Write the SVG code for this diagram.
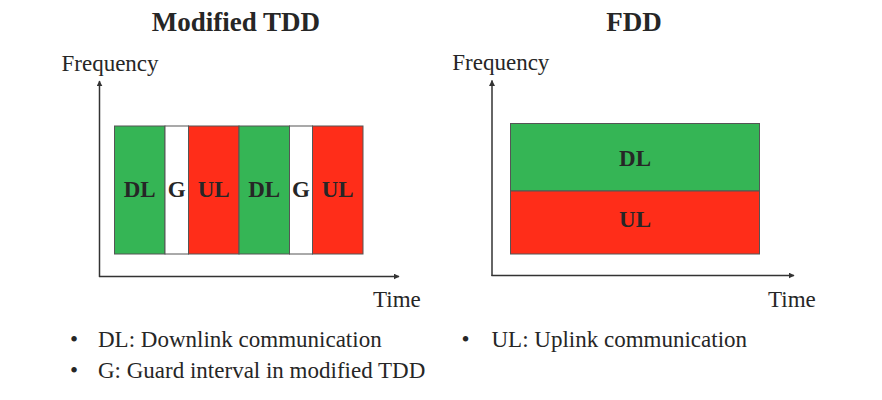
<svg xmlns="http://www.w3.org/2000/svg" width="882" height="400" viewBox="0 0 882 400">
<style>
text{font-family:"Liberation Serif","Times New Roman",serif;fill:#262626}
.t{font-size:27px;font-weight:bold;text-anchor:middle}
.ax{font-size:23px}
.lb{font-size:23px;font-weight:bold;text-anchor:middle}
.bl{font-size:23px}
.dl{fill:#35B555;stroke:#555;stroke-width:1}
.ul{fill:#FF2D19;stroke:#555;stroke-width:1}
.g{fill:#fff;stroke:#555;stroke-width:1}
.axis{stroke:#333;stroke-width:1.5;fill:none;marker-end:url(#ah)}
</style>
<defs>
<marker id="ah" viewBox="0 0 10 10" refX="9" refY="5" markerWidth="6" markerHeight="6" markerUnits="userSpaceOnUse" orient="auto">
<path d="M0,0 L10,5 L0,10 z" fill="#333"/>
</marker>
</defs>
<rect width="882" height="400" fill="#fff"/>
<text class="t" x="236" y="31">Modified TDD</text>
<text class="t" x="634" y="31">FDD</text>
<g id="connectors">
<line class="axis" x1="99.5" y1="277" x2="99.5" y2="81"/>
<line class="axis" x1="99" y1="276.5" x2="399" y2="276.5"/>
<line class="axis" x1="492" y1="276" x2="492" y2="80.5"/>
<line class="axis" x1="491.5" y1="275.5" x2="794" y2="275.5"/>
</g>
<g id="tdd-axes-labels">
<text class="ax" x="61.5" y="71">Frequency</text>
<text class="ax" x="373" y="307">Time</text>
</g>
<g id="tdd-dl1"><rect class="dl" x="114.5" y="126" width="50.5" height="128"/><text class="lb" x="139.7" y="197">DL</text></g>
<g id="tdd-g1"><rect class="g" x="165" y="126" width="23.5" height="128"/><text class="lb" x="176.7" y="197">G</text></g>
<g id="tdd-ul1"><rect class="ul" x="188.5" y="126" width="50.5" height="128"/><text class="lb" x="213.7" y="197">UL</text></g>
<g id="tdd-dl2"><rect class="dl" x="239" y="126" width="50.5" height="128"/><text class="lb" x="264.2" y="197">DL</text></g>
<g id="tdd-g2"><rect class="g" x="289.5" y="126" width="23" height="128"/><text class="lb" x="301" y="197">G</text></g>
<g id="tdd-ul2"><rect class="ul" x="312.5" y="126" width="50.5" height="128"/><text class="lb" x="337.7" y="197">UL</text></g>
<g id="fdd-axes-labels">
<text class="ax" x="452.3" y="69.5">Frequency</text>
<text class="ax" x="768" y="306.5">Time</text>
</g>
<g id="fdd-dl"><rect class="dl" x="510.5" y="123.5" width="249" height="67.5"/><text class="lb" x="635" y="166">DL</text></g>
<g id="fdd-ul"><rect class="ul" x="510.5" y="191" width="249" height="63"/><text class="lb" x="635" y="227">UL</text></g>
<g id="legend">
<text class="bl" x="70" y="346.5">•</text><text class="bl" x="98" y="346.5">DL: Downlink communication</text>
<text class="bl" x="70" y="378">•</text><text class="bl" x="98" y="378">G: Guard interval in modified TDD</text>
<text class="bl" x="461.5" y="346.5">•</text><text class="bl" x="491.5" y="346.5">UL: Uplink communication</text>
</g>
</svg>
